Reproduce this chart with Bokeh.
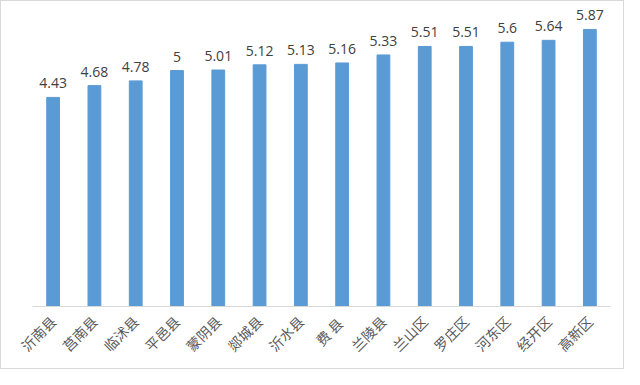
import math
from bokeh.plotting import figure
from bokeh.models import ColumnDataSource, LabelSet, FactorRange, Range1d
from bokeh.core.properties import value
from bokeh.embed import file_html
from bokeh.resources import INLINE

categories = ["沂南县", "莒南县", "临沭县", "平邑县", "蒙阴县", "郯城县", "沂水县",
              "费  县", "兰陵县", "兰山区", "罗庄区", "河东区", "经开区", "高新区"]
values = [4.43, 4.68, 4.78, 5, 5.01, 5.12, 5.13, 5.16, 5.33, 5.51, 5.51, 5.6, 5.64, 5.87]
value_labels = ["4.43", "4.68", "4.78", "5", "5.01", "5.12", "5.13", "5.16", "5.33",
                "5.51", "5.51", "5.6", "5.64", "5.87"]

src = ColumnDataSource(dict(cat=categories, val=values, lab=value_labels))

p = figure(x_range=FactorRange(*categories), y_range=Range1d(0, 6.42),
           width=624, height=369, output_backend="svg", toolbar_location=None,
           min_border_left=31, min_border_right=15, min_border_top=2, min_border_bottom=64,
           styles={"border": "1px solid #d9d9d9"})
p.x_range.range_padding = 0
p.vbar(x="cat", top="val", width=0.31, source=src, color="#5b9bd5")

labels = LabelSet(x="cat", y="val", text="lab", source=src, text_align="center",
                  text_baseline="bottom", y_offset=9, text_font_size="14px",
                  text_color="#404040", text_font=value("Open Sans"))
p.add_layout(labels)

p.yaxis.visible = False
p.xgrid.grid_line_color = None
p.ygrid.grid_line_color = None
p.outline_line_color = None
p.xaxis.axis_line_color = "#d9d9d9"
p.xaxis.major_tick_line_color = None
p.xaxis.minor_tick_line_color = None
p.xaxis.major_label_orientation = math.pi / 4
p.xaxis.major_label_text_font = "Noto Sans CJK SC"
p.xaxis.major_label_text_font_size = "14px"
p.xaxis.major_label_text_color = "#595959"
p.xaxis.major_label_standoff = 6

open("out.html", "w").write(file_html(p, INLINE))
